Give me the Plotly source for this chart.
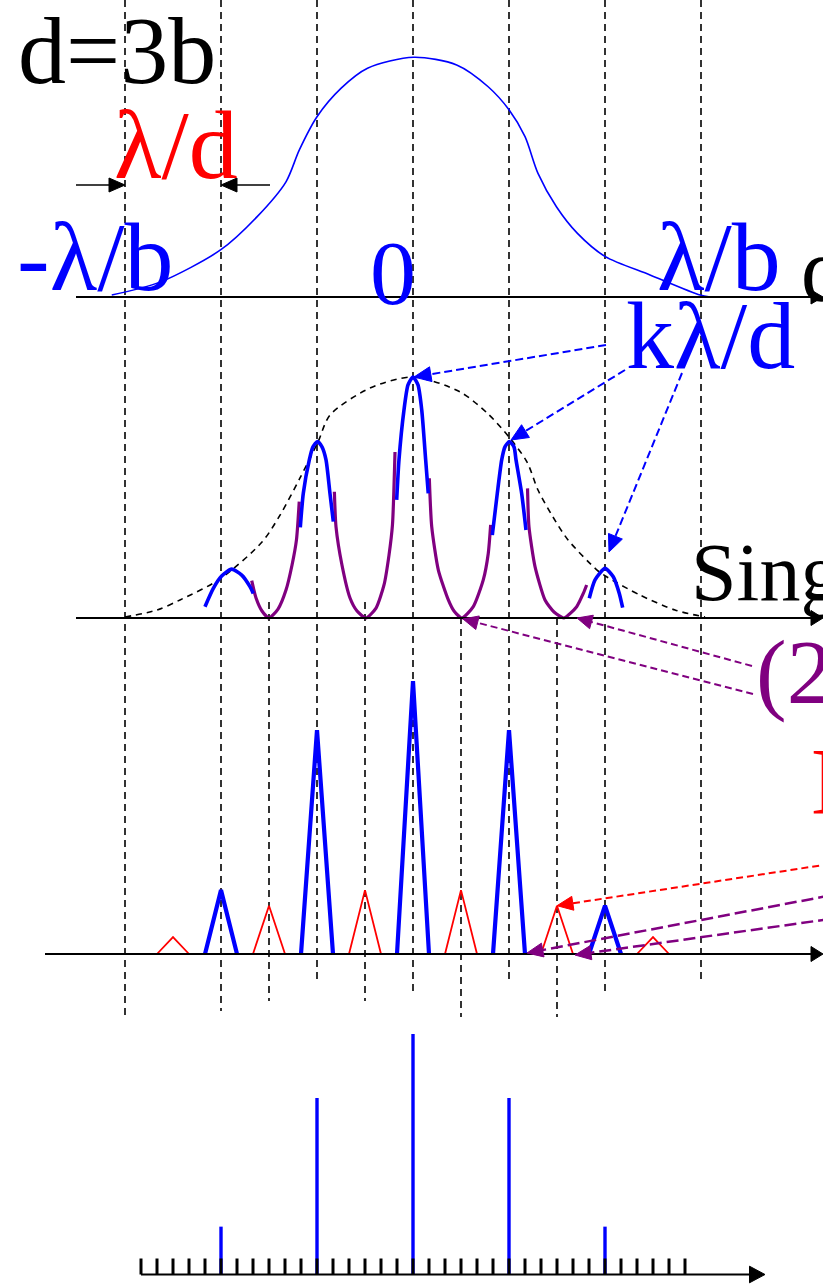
import math
import plotly.graph_objects as go

# ---------------- data (x in units of lambda/d, intensities normalised) ----------------
# top panel: single-slit diffraction envelope
top_u = [-3.138, -2.635, -2.005, -1.623, -1.323, -1.185, -1.0, -0.748, -0.474, 0.006, 0.455,
         0.783, 1.002, 1.167, 1.302, 1.494, 1.713, 2.004, 2.469, 2.990, 3.094]
top_I = [0.008, 0.062, 0.196, 0.335, 0.480, 0.612, 0.751, 0.870, 0.953, 0.999, 0.967,
         0.876, 0.779, 0.668, 0.515, 0.376, 0.265, 0.168, 0.092, 0.008, 0.0]

# second panel: dashed envelope
env_u = [-3.0, -2.667, -2.427, -2.010, -1.573, -1.385, -1.177, -0.990, -0.865, -0.448, 0.0,
         0.490, 0.771, 1.0, 1.188, 1.302, 1.458, 1.615, 1.917, 2.021, 2.365, 2.729, 3.042]
env_I = [0.004, 0.033, 0.075, 0.162, 0.315, 0.427, 0.581, 0.730, 0.842, 0.954, 1.0,
         0.938, 0.851, 0.751, 0.647, 0.531, 0.419, 0.324, 0.199, 0.170, 0.095, 0.033, 0.004]

# second panel: blue caps of the principal maxima
cap_u = [
    [-2.167, -2.080, -1.993, -1.889, -1.784, -1.698, -1.664],
    [-1.174, -1.143, -1.080, -1.042, -0.995, -0.948, -0.906, -0.865, -0.830],
    [-0.170, -0.146, -0.094, -0.052, 0.0, 0.052, 0.091, 0.132, 0.159],
    [0.826, 0.878, 0.924, 0.958, 1.003, 1.052, 1.073, 1.132, 1.177],
    [1.836, 1.896, 2.0, 2.086, 2.149, 2.184],
]
cap_I = [
    [0.047, 0.123, 0.174, 0.203, 0.178, 0.130, 0.102],
    [0.376, 0.517, 0.656, 0.710, 0.732, 0.710, 0.656, 0.517, 0.400],
    [0.490, 0.656, 0.863, 0.967, 1.0, 0.967, 0.863, 0.656, 0.517],
    [0.344, 0.517, 0.656, 0.710, 0.732, 0.710, 0.656, 0.517, 0.365],
    [0.082, 0.158, 0.206, 0.171, 0.102, 0.043],
]
# second panel: purple valleys (minima)
valley_u = [
    [-1.680, -1.635, -1.573, -1.5, -1.406, -1.323, -1.260, -1.214, -1.185],
    [-0.819, -0.802, -0.740, -0.656, -0.583, -0.490, -0.385, -0.302, -0.250, -0.214, -0.1875],
    [0.170, 0.195, 0.264, 0.368, 0.427, 0.510, 0.628, 0.732, 0.784, 0.809],
    [1.193, 1.208, 1.271, 1.375, 1.469, 1.573, 1.705, 1.774, 1.809],
]
valley_I = [
    [0.155, 0.083, 0.029, 0.0, 0.037, 0.116, 0.220, 0.324, 0.483],
    [0.524, 0.378, 0.220, 0.083, 0.029, 0.0, 0.041, 0.137, 0.261, 0.386, 0.689],
    [0.580, 0.379, 0.199, 0.075, 0.029, 0.0, 0.047, 0.158, 0.268, 0.386],
    [0.538, 0.379, 0.213, 0.075, 0.025, 0.0, 0.047, 0.102, 0.137],
]

# third panel: principal (blue) and secondary (red) maxima
principal_u = [-2, -1, 0, 1, 2]
principal_I = [0.234, 0.82, 1.0, 0.82, 0.177]
secondary_u = [-2.5, -1.5, -0.5, 0.5, 1.5, 2.5]
secondary_I = [0.062, 0.177, 0.234, 0.234, 0.177, 0.062]

# bottom panel: sticks
stick_u = [-2, -1, 0, 1, 2]
stick_I = [0.199, 0.734, 1.0, 0.734, 0.199]
tick_u = [k / 6 for k in range(-17, 18)]

# guide lines
guide_u = [-3, -2, -1, 0, 1, 2, 3]
half_guide_u = [-1.5, -0.5, 0.5, 1.5]

# ---------------- layout geometry ----------------
W, H = 823, 1288
U0_PX, U_PX = 413.0, 96.0
PANELS = {"y": (297.0, 240.0), "y2": (618.0, 241.0), "y3": (954.0, 273.0), "y4": (1274.5, 240.5)}
FONT = "Liberation Serif, Times New Roman, serif"
BLUE, RED, PURPLE, BLACK = "#0000ff", "#ff0000", "#800080", "#000000"


def xp(px):
    return px / W


def yp(py):
    return 1 - py / H


def urange():
    return [(0 - U0_PX) / U_PX, (W - U0_PX) / U_PX]


def yrange(key):
    b, h = PANELS[key]
    return [(b - H) / h, b / h]


fig = go.Figure()

# top curve
fig.add_trace(go.Scatter(x=top_u, y=top_I, yaxis="y", mode="lines",
                         line=dict(color=BLUE, width=1.6, shape="spline", smoothing=0.8),
                         hoverinfo="skip"))
# envelope
fig.add_trace(go.Scatter(x=env_u, y=env_I, yaxis="y2", mode="lines",
                         line=dict(color=BLACK, width=1.6, dash="6px,5px", shape="spline", smoothing=0.8),
                         hoverinfo="skip"))
for xs, ys in zip(valley_u, valley_I):
    fig.add_trace(go.Scatter(x=xs, y=ys, yaxis="y2", mode="lines",
                             line=dict(color=PURPLE, width=3.2, shape="spline", smoothing=0.6),
                             hoverinfo="skip"))
for xs, ys in zip(cap_u, cap_I):
    fig.add_trace(go.Scatter(x=xs, y=ys, yaxis="y2", mode="lines",
                             line=dict(color=BLUE, width=3.6, shape="spline", smoothing=0.6),
                             hoverinfo="skip"))

# triangles
HALF = 1 / 6


def tri(us, Is):
    xs, ys = [], []
    for u, v in zip(us, Is):
        xs += [u - HALF, u, u + HALF, None]
        ys += [0, v, 0, None]
    return xs, ys


tx, ty = tri(secondary_u, secondary_I)
fig.add_trace(go.Scatter(x=tx, y=ty, yaxis="y3", mode="lines", line=dict(color=RED, width=1.8),
                         hoverinfo="skip"))
tx, ty = tri(principal_u, principal_I)
fig.add_trace(go.Scatter(x=tx, y=ty, yaxis="y3", mode="lines", line=dict(color=BLUE, width=4.2),
                         hoverinfo="skip"))

# sticks
sx, sy = [], []
for u, v in zip(stick_u, stick_I):
    sx += [u, u, None]
    sy += [0, v, None]
fig.add_trace(go.Scatter(x=sx, y=sy, yaxis="y4", mode="lines", line=dict(color=BLUE, width=3.4),
                         hoverinfo="skip"))
# ticks of the bottom axis
TICK = 16 / PANELS["y4"][1]
kx, ky = [], []
for t in tick_u:
    kx += [t, t, None]
    ky += [0, TICK, None]
fig.add_trace(go.Scatter(x=kx, y=ky, yaxis="y4", mode="lines", line=dict(color=BLACK, width=3),
                         hoverinfo="skip"))

shapes = []
# vertical dashed guides
full_bottom = [1017, 1011, 981, 994, 981, 994, 981]
for u, b in zip(guide_u, full_bottom):
    shapes.append(dict(type="line", xref="x", yref="paper", x0=u, x1=u, y0=yp(0), y1=yp(b),
                       line=dict(color=BLACK, width=1.6, dash="7px,5px"), layer="below"))
half_top = [602, 602, 617, 618]
half_bottom = [1001, 1001, 1017, 1017]
for u, t, b in zip(half_guide_u, half_top, half_bottom):
    shapes.append(dict(type="line", xref="x", yref="paper", x0=u, x1=u, y0=yp(t), y1=yp(b),
                       line=dict(color=BLACK, width=1.6, dash="7px,5px"), layer="below"))


def head(tip, tail, length, half, color):
    (tx_, ty_), (sx_, sy_) = tip, tail
    dx, dy = sx_ - tx_, sy_ - ty_
    n = math.hypot(dx, dy)
    ux, uy = dx / n, dy / n
    bx, by = tx_ + ux * length, ty_ + uy * length
    qx, qy = -uy, ux
    p1 = (bx + qx * half, by + qy * half)
    p2 = (bx - qx * half, by - qy * half)
    path = (f"M{xp(tx_)},{yp(ty_)} L{xp(p1[0])},{yp(p1[1])} "
            f"L{xp(p2[0])},{yp(p2[1])} Z")
    return dict(type="path", path=path, xref="paper", yref="paper", fillcolor=color,
                line=dict(color=color, width=1))


def arrow(tail, tip, color, width, dash, length, half):
    (tx_, ty_), (sx_, sy_) = tip, tail
    dx, dy = sx_ - tx_, sy_ - ty_
    n = math.hypot(dx, dy)
    ex, ey = tx_ + dx / n * length * 0.6, ty_ + dy / n * length * 0.6
    shapes.append(dict(type="line", xref="paper", yref="paper", x0=xp(sx_), y0=yp(sy_),
                       x1=xp(ex), y1=yp(ey), line=dict(color=color, width=width, dash=dash)))
    shapes.append(head(tip, tail, length, half, color))


# baselines with arrows
for key, x_start, x_tip, hl, hh in [("y", 76, 823, 12, 7), ("y2", 76, 823, 12, 7.5),
                                    ("y3", 45, 823, 12, 7.5), ("y4", 141, 765, 15.5, 8.3)]:
    b = PANELS[key][0]
    arrow((x_start, b), (x_tip, b), BLACK, 2, "solid", hl, hh)

# lambda/d spacing arrows
arrow((76, 185), (125, 185), BLACK, 1.5, "solid", 16, 7)
arrow((270, 185), (221, 185), BLACK, 1.5, "solid", 16, 7)
# k lambda/d arrows
arrow((606, 345), (414, 377), BLUE, 2, "8px,4px", 17, 7.5)
arrow((625, 370), (511, 440), BLUE, 2, "8px,4px", 17, 7.5)
arrow((682, 373), (609, 552), BLUE, 2, "8px,4px", 17, 7.5)
# minima arrows
arrow((752, 666), (577, 618), PURPLE, 2, "7px,4px", 15, 7)
arrow((753, 694), (463, 619), PURPLE, 2, "7px,4px", 15, 7)
# third panel arrows
arrow((830, 864), (557, 905.7), RED, 2, "7px,4px", 16, 7)
arrow((830, 895.5), (527, 953), PURPLE, 2.5, "12px,5px", 16, 7)
arrow((830, 919), (575, 955), PURPLE, 2.5, "12px,5px", 16, 7)

# ---------------- texts ----------------
texts = [
    ("d=3b", 16, 50, 96, BLACK, "left"),
    ("λ/d", 112, 145, 98, RED, "left"),
    ("-λ/b", 15, 257, 98, BLUE, "left"),
    ("0", 392.5, 273, 92, BLUE, "center"),
    ("λ/b", 655, 257, 98, BLUE, "left"),
    ("q", 799, 270, 90, BLACK, "left"),
    ("kλ/d", 624, 335, 96, BLUE, "left"),
    ("Single slit", 689, 572, 82, BLACK, "left"),
    ("(2k+1)λ/2d", 754, 672, 92, PURPLE, "left"),
    ("N", 809, 782, 95, RED, "left"),
]
annotations = []
for t, x, y, s, c, xa in texts:
    annotations.append(dict(text=t, x=xp(x), y=yp(y), xref="paper", yref="paper",
                            xanchor=xa, yanchor="middle", showarrow=False,
                            font=dict(family=FONT, size=s, color=c)))

ax_common = dict(visible=False, fixedrange=True)
fig.update_layout(
    width=W, height=H, margin=dict(l=0, r=0, t=0, b=0),
    paper_bgcolor="white", plot_bgcolor="white", showlegend=False,
    xaxis=dict(range=urange(), domain=[0, 1], **ax_common),
    yaxis=dict(range=yrange("y"), domain=[0, 1], **ax_common),
    yaxis2=dict(range=yrange("y2"), overlaying="y", anchor="x", **ax_common),
    yaxis3=dict(range=yrange("y3"), overlaying="y", anchor="x", **ax_common),
    yaxis4=dict(range=yrange("y4"), overlaying="y", anchor="x", **ax_common),
    shapes=shapes, annotations=annotations,
)

fig.write_html("out.html", config={"displayModeBar": False, "staticPlot": True},
               post_script="document.body.style.margin='0';document.body.style.overflow='hidden';")
